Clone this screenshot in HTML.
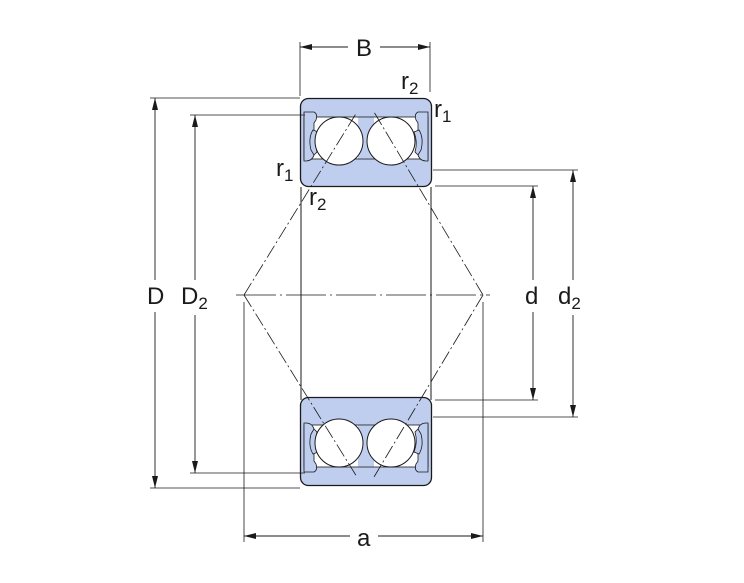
<!DOCTYPE html>
<html><head><meta charset="utf-8"><style>
html,body{margin:0;padding:0;background:#fff}
svg{display:block}
text{font-family:"Liberation Sans",sans-serif;fill:#1a1a1a}
</style></head><body>
<svg width="744" height="583" viewBox="0 0 744 583" xmlns="http://www.w3.org/2000/svg">
<defs>
<marker id="ar" viewBox="0 0 12 6" refX="12" refY="3" markerWidth="12" markerHeight="6" orient="auto-start-reverse" markerUnits="userSpaceOnUse"><path d="M0,0 L12,3 L0,6 Z" fill="#1a1a1a"/></marker>
<g id="brg">
<rect x="300.5" y="98.5" width="131" height="88" rx="8" fill="#bfcdee" stroke="#1a1a1a" stroke-width="1.3"/>
<rect x="304" y="117" width="124" height="42" fill="#fff" stroke="#1a1a1a" stroke-width="0.8"/>
<path d="M304,112 h10 q4,2 2,8 l-2,3 v32 q-2,6 -8,6 h-2 z" fill="#bfcdee" stroke="#1a1a1a" stroke-width="0.8"/>
<path d="M428,112 h-10 q-4,2 -2,8 l2,3 v32 q2,6 8,6 h2 z" fill="#bfcdee" stroke="#1a1a1a" stroke-width="0.8"/>
<path d="M313,130 q-5,8 -2,20 l3,5 l3,-3 q-3,-10 1,-20 z" fill="#bfcdee" stroke="#1a1a1a" stroke-width="0.8"/>
<path d="M419,130 q5,8 2,20 l-3,5 l-3,-3 q3,-10 -1,-20 z" fill="#bfcdee" stroke="#1a1a1a" stroke-width="0.8"/>
<rect x="358" y="117.5" width="16" height="41" fill="#bfcdee"/>
<circle cx="339" cy="141" r="24" fill="#fff" stroke="#1a1a1a" stroke-width="1"/>
<circle cx="391" cy="141" r="24" fill="#fff" stroke="#1a1a1a" stroke-width="1"/>
</g>
</defs>
<use href="#brg"/>
<use href="#brg" transform="translate(0,583.5) scale(1,-1) translate(0,-0.5)"/>
<g stroke="#1a1a1a" fill="none" stroke-width="1">
<line x1="301" y1="187" x2="301" y2="400"/>
<line x1="431" y1="187" x2="431" y2="400"/>
<g stroke-width="0.8" stroke-dasharray="14,3,2,3">
<line x1="244" y1="295" x2="357" y2="112"/>
<line x1="483" y1="295" x2="374" y2="112"/>
<line x1="244" y1="295" x2="357" y2="477"/>
<line x1="483" y1="295" x2="374" y2="477"/>
</g>
<line x1="236" y1="295" x2="490" y2="295" stroke-width="0.8" stroke-dasharray="40,4,2,4"/>
<line x1="150" y1="98" x2="300" y2="98" stroke-width="0.8"/>
<line x1="150" y1="488" x2="300" y2="488" stroke-width="0.8"/>
<line x1="155" y1="98" x2="155" y2="280" marker-start="url(#ar)" stroke-width="0.9"/>
<line x1="155" y1="312" x2="155" y2="488" marker-end="url(#ar)" stroke-width="0.9"/>
<line x1="190" y1="115" x2="305" y2="115" stroke-width="0.8"/>
<line x1="190" y1="473" x2="305" y2="473" stroke-width="0.8"/>
<line x1="195" y1="115" x2="195" y2="280" marker-start="url(#ar)" stroke-width="0.9"/>
<line x1="195" y1="315" x2="195" y2="473" marker-end="url(#ar)" stroke-width="0.9"/>
<line x1="435" y1="186" x2="538" y2="186" stroke-width="0.8"/>
<line x1="435" y1="400" x2="538" y2="400" stroke-width="0.8"/>
<line x1="533" y1="186" x2="533" y2="280" marker-start="url(#ar)" stroke-width="0.9"/>
<line x1="533" y1="312" x2="533" y2="400" marker-end="url(#ar)" stroke-width="0.9"/>
<line x1="433" y1="170" x2="578" y2="170" stroke-width="0.8"/>
<line x1="433" y1="417" x2="578" y2="417" stroke-width="0.8"/>
<line x1="573" y1="170" x2="573" y2="280" marker-start="url(#ar)" stroke-width="0.9"/>
<line x1="573" y1="315" x2="573" y2="417" marker-end="url(#ar)" stroke-width="0.9"/>
<line x1="300" y1="42" x2="300" y2="96" stroke-width="0.8"/>
<line x1="430" y1="42" x2="430" y2="92" stroke-width="0.8"/>
<line x1="300" y1="47" x2="348" y2="47" marker-start="url(#ar)" stroke-width="0.9"/>
<line x1="380" y1="47" x2="430" y2="47" marker-end="url(#ar)" stroke-width="0.9"/>
<line x1="244" y1="302" x2="244" y2="542" stroke-width="0.8"/>
<line x1="483" y1="302" x2="483" y2="542" stroke-width="0.8"/>
<line x1="244" y1="536" x2="350" y2="536" marker-start="url(#ar)" stroke-width="0.9"/>
<line x1="378" y1="536" x2="483" y2="536" marker-end="url(#ar)" stroke-width="0.9"/>
</g>
<g font-size="24">
<text x="356" y="56">B</text>
<text x="357" y="546">a</text>
<text x="147" y="304">D</text>
<text x="181" y="304">D<tspan font-size="17" dy="5">2</tspan></text>
<text x="525" y="304">d</text>
<text x="558" y="304">d<tspan font-size="17" dy="5">2</tspan></text>
<text x="401" y="89">r<tspan font-size="17" dy="5">2</tspan></text>
<text x="434" y="117">r<tspan font-size="17" dy="5">1</tspan></text>
<text x="276" y="176">r<tspan font-size="17" dy="5">1</tspan></text>
<text x="309" y="205">r<tspan font-size="17" dy="5">2</tspan></text>
</g>
</svg>
</body></html>
